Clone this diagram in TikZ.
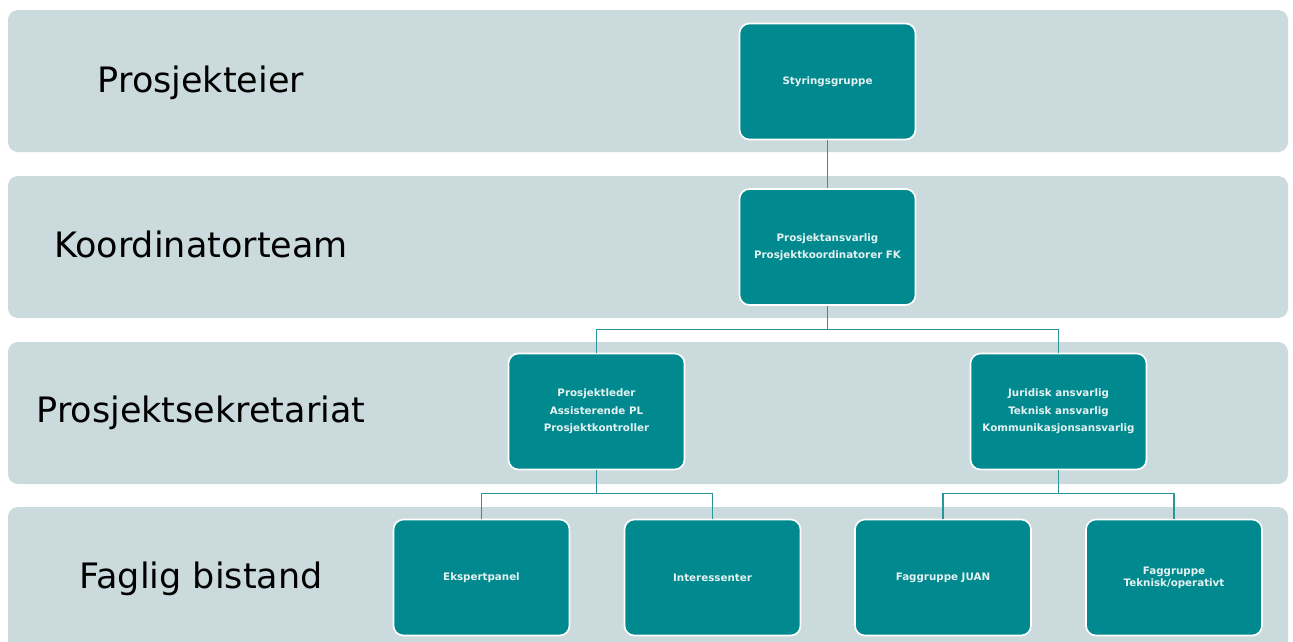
\documentclass[tikz,border=0pt]{standalone}
\usepackage{fontspec}
\setmainfont{DejaVu Sans}
\definecolor{bandc}{HTML}{CBDADD}
\definecolor{boxc}{HTML}{008A8F}
\definecolor{linec}{HTML}{2A9599}
\definecolor{boxtext}{HTML}{E6F2F2}
\tikzset{
  band/.style={fill=bandc, draw=none, rounded corners=10pt},
  orgbox/.style={draw=white, line width=1.6pt, fill=boxc, rounded corners=10pt,
    minimum width=176pt, minimum height=116pt, inner sep=0pt, align=center,
    text=boxtext, font=\fontsize{10.3}{17.5}\selectfont\bfseries},
  lvl/.style={font=\fontsize{35}{40}\selectfont, text=black, inner sep=0pt, anchor=base},
  conn/.style={draw=linec, line width=1.1pt}
}
\begin{document}
\begin{tikzpicture}[x=1pt,y=-1pt]
\useasboundingbox (0,0) rectangle (1293,641);
\clip (0,0) rectangle (1293,641);
\fill[white] (0,0) rectangle (1293,641);
% bands
\path[band] (8,10) rectangle (1288,152);
\path[band] (8,176) rectangle (1288,318);
\path[band] (8,342) rectangle (1288,484);
\path[band] (8,507) rectangle (1288,665);
% level labels
\node[lvl] (l1) at (201,92) {Prosjekteier};
\node[lvl] (l2) at (201,257) {Koordinatorteam};
\node[lvl] (l3) at (201,422) {Prosjektsekretariat};
\node[lvl] (l4) at (201,588) {Faglig bistand};
% boxes
\node[orgbox] (s) at (827.5,81.5) {Styringsgruppe};
\node[orgbox] (k) at (827.5,247) {Prosjektansvarlig\\Prosjektkoordinatorer FK};
\node[orgbox] (p) at (596.5,411.5) {Prosjektleder\\Assisterende PL\\Prosjektkontroller};
\node[orgbox] (j) at (1058.5,411.5) {Juridisk ansvarlig\\Teknisk ansvarlig\\Kommunikasjonsansvarlig};
\node[orgbox] (e) at (481.5,577.5) {Ekspertpanel};
\node[orgbox] (i) at (712.5,577.5) {Interessenter};
\node[orgbox] (f) at (943,577.5) {Faggruppe JUAN};
\node[orgbox, font=\fontsize{10.3}{12}\selectfont\bfseries] (t) at (1174,577.5) {Faggruppe\\Teknisk/operativt};
% connectors
\draw[conn] (s.south) -- (k.north);
\draw[conn] (k.south) -- ++(0,24) -| (p.north);
\draw[conn] (k.south) -- ++(0,24) -| (j.north);
\draw[conn] (p.south) -- ++(0,23) -| (e.north);
\draw[conn] (p.south) -- ++(0,23) -| (i.north);
\draw[conn] (j.south) -- ++(0,23) -| (f.north);
\draw[conn] (j.south) -- ++(0,23) -| (t.north);
\end{tikzpicture}
\end{document}
